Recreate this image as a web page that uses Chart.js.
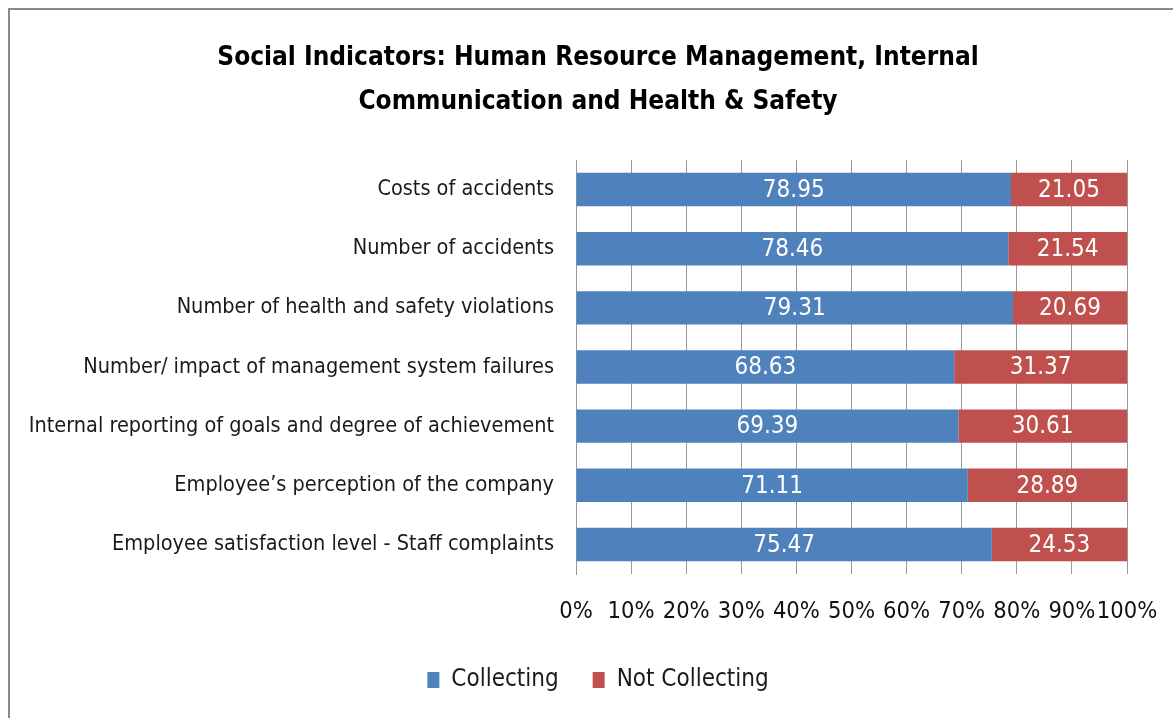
<!DOCTYPE html>
<html>
<head>
<meta charset="utf-8">
<script src="https://cdn.jsdelivr.net/npm/chart.js@4/dist/chart.umd.min.js"></script>
<style>
	html, body { margin: 0; padding: 0; background: #fff; }
	#wrap { position: relative; width: 1173px; height: 718px; overflow: hidden; }
	#frame { position: absolute; left: 8px; top: 8px; width: 1200px; height: 800px; border-left: 2px solid #8a8a8a; border-top: 2px solid #8a8a8a; }
	canvas { position: absolute; left: 0; top: 0; }
</style>
</head>
<body>
<div id="wrap">
	<div id="frame"></div>
	<canvas id="socialChart" width="1173" height="718"></canvas>
</div>
<script>
var FONT = "'Liberation Sans Narrow', 'DejaVu Sans Condensed', sans-serif";

var categories = [
	'Costs of accidents',
	'Number of accidents',
	'Number of health and safety violations',
	'Number/ impact of management system failures',
	'Internal reporting of goals and degree of achievement',
	'Employee\u2019s perception of the company',
	'Employee satisfaction level - Staff complaints'
];
var collecting = [78.95, 78.46, 79.31, 68.63, 69.39, 71.11, 75.47];
var notCollecting = [21.05, 21.54, 20.69, 31.37, 30.61, 28.89, 24.53];
var xTicks = [0, 10, 20, 30, 40, 50, 60, 70, 80, 90, 100];

var COLORS = {
	blue: '#4F81BD',
	red: '#C0504D',
	grid: '#999999'
};

// white value labels in the middle of each segment
var barLabels = {
	id: 'barLabels',
	afterDatasetsDraw: function(chart) {
		var ctx = chart.ctx;
		ctx.save();
		ctx.font = '24px ' + FONT;
		ctx.fillStyle = '#ffffff';
		ctx.textAlign = 'center';
		ctx.textBaseline = 'middle';
		chart.data.datasets.forEach(function(ds, i) {
			chart.getDatasetMeta(i).data.forEach(function(bar, j) {
				var cx = (bar.x + bar.base) / 2;
				ctx.fillText(ds.data[j].toFixed(2), cx, bar.y + 1);
			});
		});
		ctx.restore();
	}
};

// the long category names run past the left padding, so widen the label clip box
var labelRoom = {
	id: 'labelRoom',
	afterLayout: function(chart) {
		chart.scales.y.left = 0;
	}
};

var config = {
	type: 'bar',
	data: {
		labels: categories,
		datasets: [{
			label: 'Collecting',
			data: collecting,
			backgroundColor: COLORS.blue,
			barPercentage: 0.565,
			categoryPercentage: 1
		}, {
			label: 'Not Collecting',
			data: notCollecting,
			backgroundColor: COLORS.red,
			barPercentage: 0.565,
			categoryPercentage: 1
		}]
	},
	options: {
		indexAxis: 'y',
		responsive: false,
		animation: false,
		layout: {
			padding: { left: 69, right: 46, top: 0, bottom: 16 }
		},
		plugins: {
			title: {
				display: true,
				text: ['Social Indicators: Human Resource Management, Internal', 'Communication and Health & Safety'],
				color: '#000',
				font: { family: FONT, size: 26, weight: 'bold', lineHeight: 44 / 26 },
				padding: { top: 36, bottom: 36 }
			},
			legend: {
				display: true,
				position: 'bottom',
				labels: {
					color: '#1a1a1a',
					boxWidth: 12,
					boxHeight: 16,
					padding: 34,
					font: { family: FONT, size: 24 }
				}
			},
			tooltip: { enabled: false }
		},
		scales: {
			x: {
				stacked: true,
				min: 0,
				max: 100,
				afterBuildTicks: function(scale) {
					scale.ticks = xTicks.map(function(v) { return { value: v }; });
				},
				afterFit: function(scale) {
					scale.height = 60;
					scale.paddingLeft = 0;
					scale.paddingRight = 0;
				},
				grid: {
					color: COLORS.grid,
					drawTicks: false
				},
				border: { display: false },
				ticks: {
					color: '#111',
					padding: 24,
					maxRotation: 0,
					autoSkip: false,
					font: { family: FONT, size: 23.5 },
					callback: function(v) { return v + '%'; }
				}
			},
			y: {
				stacked: true,
				afterFit: function(scale) {
					scale.width = 576 - 69;
				},
				grid: { display: false },
				border: { display: true, color: COLORS.grid },
				ticks: {
					color: '#1a1a1a',
					padding: 14,
					autoSkip: false,
					font: { family: FONT, size: 21.5 }
				}
			}
		}
	},
	plugins: [barLabels, labelRoom]
};

var socialChart = new Chart(document.getElementById('socialChart'), config);
</script>
</body>
</html>
